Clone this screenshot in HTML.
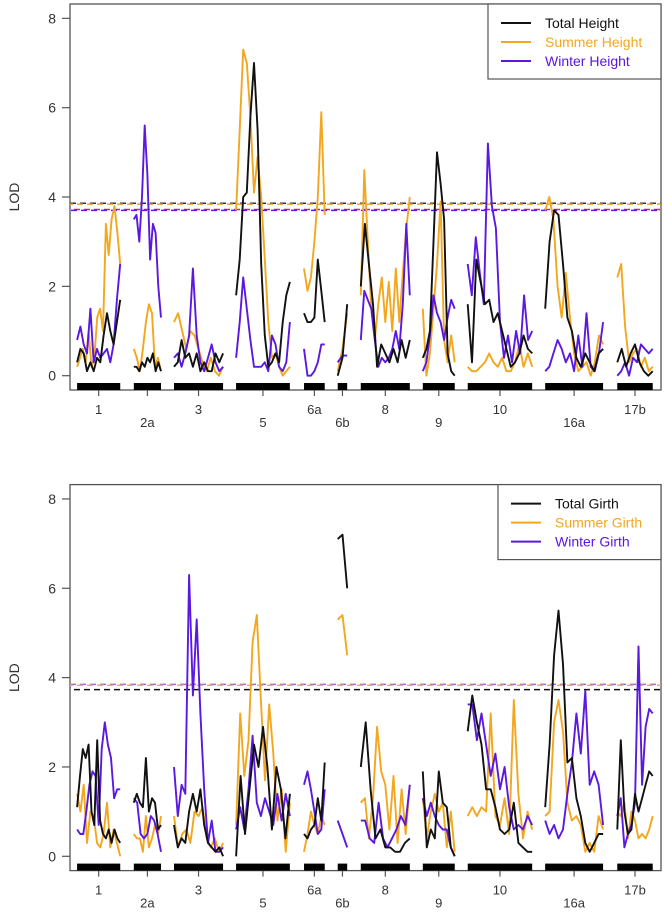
<!DOCTYPE html>
<html><head><meta charset="utf-8"><style>
html,body{margin:0;padding:0;background:#fff;}
svg{display:block;font-family:"Liberation Sans",Arial,sans-serif;}
</style></head><body>
<svg id="chart" width="664" height="912" viewBox="0 0 664 912" xmlns="http://www.w3.org/2000/svg"></svg>
<script>
const chromNames = ["1","2a","3","5","6a","6b","8","9","10","16a","17b"];
const chromStart = [1.2,10.8,17.6,28.1,39.6,45.3,49.2,59.7,67.3,80.4,92.6];
const chromEnd   = [8.5,15.4,25.9,37.2,43.1,46.9,57.5,65.1,78.2,90.2,98.6];
const yTicks = [0,2,4,6,8];

const heightTotal = [
 [0.3,0.6,0.5,0.1,0.3,0.1,0.4,0.3,0.9,1.4,1.0,0.7,1.2,1.7],
 [0.2,0.2,0.1,0.3,0.2,0.4,0.3,0.5,0.1,0.3,0.1],
 [0.2,0.3,0.8,0.4,0.5,0.2,0.5,0.1,0.3,0.1,0.1,0.5,0.3,0.5],
 [1.8,2.6,4.0,4.1,5.8,7.0,5.5,2.5,0.9,0.2,0.3,0.5,0.3,1.2,1.8,2.1],
 [1.4,1.2,1.2,1.3,2.6,1.9,1.2],
 [0.0,0.4,1.6],
 [2.0,3.4,2.5,1.6,0.2,0.7,0.5,0.3,0.6,0.3,0.8,0.4,0.8],
 [0.4,0.6,1.0,3.0,5.0,4.3,3.5,0.5,0.1,0.0],
 [1.6,0.3,2.6,2.1,1.6,1.7,1.2,1.4,1.0,0.6,0.2,0.3,0.5,0.9,0.6,0.5],
 [1.5,3.0,3.7,3.6,2.5,1.3,1.0,0.4,0.2,0.5,0.3,0.1,0.5,0.6],
 [0.3,0.6,0.2,0.5,0.7,0.3,0.1,0.0,0.1]
];
const heightSummer = [
 [0.2,0.4,0.6,0.3,1.0,0.2,0.4,1.3,1.5,1.0,3.4,2.7,3.5,3.8,3.2,2.5],
 [0.6,0.4,0.1,0.6,1.2,1.6,1.4,0.2,0.4,0.1],
 [1.2,1.4,1.0,0.6,1.0,0.9,0.6,0.3,0.1,0.4,0.1,0.0,0.2],
 [3.7,5.5,7.3,7.0,5.8,4.1,4.9,4.0,2.6,1.2,0.4,0.5,0.2,0.0,0.1,0.2],
 [2.4,1.9,2.2,3.0,4.0,5.9,3.6],
 [0.1,0.6,1.4],
 [1.8,4.6,3.0,1.5,0.8,1.6,2.2,1.2,2.1,1.0,2.4,1.2,2.3,3.3,4.0],
 [1.5,0.0,0.5,1.5,2.5,3.9,0.8,0.3,0.9,0.3],
 [0.2,0.1,0.1,0.2,0.3,0.5,0.3,0.2,0.4,0.1,0.1,0.3,0.7,0.2,0.5,0.2],
 [3.7,4.0,3.5,2.0,1.3,2.3,1.3,0.5,0.1,0.2,0.3,0.0,0.3,0.9,0.7],
 [2.2,2.5,1.1,0.3,0.5,0.6,0.2,0.4,0.1,0.2]
];
const heightWinter = [
 [0.8,1.1,0.7,0.5,1.5,0.3,0.6,0.4,0.5,0.6,0.3,0.7,1.7,2.5],
 [3.5,3.6,3.0,4.0,5.6,4.5,2.6,3.4,3.2,2.0,1.3],
 [0.4,0.5,0.2,0.5,0.9,2.4,0.9,0.3,0.1,0.4,0.7,0.3,0.1,0.2],
 [0.4,1.2,2.2,1.5,0.8,0.2,0.2,0.2,0.3,0.1,0.9,0.7,0.2,0.1,0.3,1.2],
 [0.6,0.0,0.0,0.1,0.3,0.7,0.7],
 [0.3,0.45,0.45],
 [0.8,1.9,1.7,1.5,0.8,0.2,0.4,0.3,0.4,0.6,1.0,0.6,1.6,3.4,1.8],
 [0.1,0.3,0.9,1.8,1.4,1.2,0.8,1.3,1.7,1.5],
 [2.5,1.8,3.1,2.3,1.6,5.2,3.8,3.3,1.2,0.4,0.9,0.3,1.0,0.5,1.8,0.8,1.0],
 [0.1,0.2,0.5,0.8,0.6,0.3,0.5,0.1,0.9,0.2,1.4,0.2,0.1,0.5,1.2],
 [0.0,0.1,0.3,0.0,0.4,0.3,0.7,0.6,0.5,0.6]
];
const girthTotal = [
 [1.1,1.8,2.4,2.2,2.5,1.0,0.7,2.6,0.8,0.5,0.4,0.6,0.3,0.6,0.4,0.3],
 [1.2,1.4,1.2,1.1,2.2,1.0,1.3,1.2,0.6,0.7],
 [0.7,0.2,0.4,0.3,1.0,1.4,1.0,1.5,0.7,0.3,0.2,0.1,0.2,0.0],
 [0.0,1.8,0.5,1.5,2.5,2.0,2.9,2.0,0.6,2.0,1.5,0.4,1.4],
 [0.5,0.4,0.6,0.7,1.3,0.8,2.1],
 [7.1,7.2,6.0],
 [2.0,3.0,1.5,0.4,0.6,0.2,0.2,0.1,0.1,0.3,0.4],
 [1.9,0.2,0.6,0.4,1.9,1.2,1.1,0.2,0.0],
 [2.8,3.6,3.0,2.5,1.5,1.5,1.1,0.6,0.5,0.6,1.2,0.3,0.2,0.1,0.1],
 [1.1,2.5,4.5,5.5,4.3,2.1,2.2,1.3,0.9,0.3,0.1,0.3,0.5,0.5],
 [0.6,2.6,1.0,0.5,0.6,1.4,1.0,1.3,1.6,1.9,1.8]
];
const girthSummer = [
 [1.4,1.0,1.6,0.3,1.0,0.9,0.3,0.2,0.5,1.2,0.2,0.6,0.3,0.0],
 [0.5,0.4,0.4,0.1,0.9,0.2,0.4,0.7,0.5,0.9],
 [0.9,0.2,0.5,0.6,0.3,1.0,0.9,1.1,0.4,0.2,0.4,0.1,0.3],
 [0.7,3.2,1.8,2.6,4.8,5.4,3.5,1.7,3.4,2.3,0.8,1.5,0.1,1.2],
 [0.1,0.5,1.0,0.7,0.5,0.9,0.7],
 [5.3,5.4,4.5],
 [1.2,1.3,0.4,1.3,2.9,1.9,1.6,0.6,1.8,0.3,1.5,0.5,1.6],
 [1.3,0.4,1.0,1.4,1.0,1.2,0.2,1.0,0.1],
 [0.9,1.1,0.9,1.1,1.0,3.2,0.9,0.7,1.3,0.5,3.5,1.4,0.4,1.0,0.6],
 [0.9,1.0,3.0,3.5,2.8,1.2,0.8,0.9,0.7,0.1,0.3,0.1,0.9,0.6],
 [1.0,0.9,1.2,0.4,1.0,0.8,0.4,0.5,0.4,0.6,0.9]
];
const girthWinter = [
 [0.6,0.5,0.5,1.0,1.6,1.9,1.8,0.7,2.4,3.0,2.5,2.2,1.3,1.5,1.5],
 [1.3,1.2,0.5,0.4,0.5,0.9,0.8,0.5,0.1],
 [2.0,0.9,1.6,1.4,6.3,3.6,5.3,3.2,1.5,0.3,0.8,0.1,0.1,0.2],
 [0.6,1.1,0.6,1.5,2.7,1.2,0.9,1.3,1.0,0.7,1.4,0.8,1.4,0.9],
 [1.6,1.9,1.5,1.0,0.5,0.6,1.5],
 [0.8,0.5,0.2],
 [0.8,0.8,0.4,0.3,1.2,0.4,0.2,0.4,0.6,0.9,0.7,1.6],
 [1.3,0.9,1.2,0.9,0.7,0.6,0.6,0.2,0.0],
 [3.4,3.4,2.6,3.2,2.5,1.8,2.3,1.5,2.0,1.1,0.6,0.7,0.6,0.9,0.7],
 [0.8,0.5,0.7,0.4,0.6,1.4,2.1,3.2,2.3,3.7,1.6,1.9,1.6,0.7],
 [0.9,1.3,0.2,0.5,0.7,1.2,4.7,1.6,2.9,3.3,3.2]
];
const heightThresholds = [3.86,3.84,3.72,3.70];
const girthThresholds = [3.85,3.83,3.73];

const svg = document.getElementById('chart');
const NS = 'http://www.w3.org/2000/svg';
function mk(tag, attrs, parent){
  const e = document.createElementNS(NS, tag);
  for (const k in attrs) e.setAttribute(k, attrs[k]);
  (parent||svg).appendChild(e);
  return e;
}
const COL = {total:'#111111', summer:'#F2A71E', winter:'#5A18E0'};
const xScale = u => 70 + u*5.91;

function panel(off, key, series, thresholds, thrColors, labels){
  const yScale = v => off + 375.7 - v*44.67;
  const g = mk('g', {});
  
  
  // frame
  const fr = mk('rect', {x:70, y:off+4, width:591, height:386, fill:'none', stroke:'#555', 'stroke-width':1.3}, g);
  
  
  // y ticks
  yTicks.forEach(t => {
    const y = yScale(t);
    const tl = mk('line', {x1:62, x2:70, y1:y, y2:y, stroke:'#555', 'stroke-width':1.2}, g);
    
    
    const tx = mk('text', {x:56, y:y+5, 'text-anchor':'end', 'font-size':14, fill:'#333'}, g);
    tx.textContent = t;
    
    
  });
  const yl = mk('text', {x:0, y:0, 'text-anchor':'middle', 'font-size':14, fill:'#333', transform:'translate(19,'+(off+197)+') rotate(-90)'}, g);
  yl.textContent = 'LOD';
  
  
  // chromosome bars, ticks, labels
  chromNames.forEach((n, i) => {
    const x0 = xScale(chromStart[i]), x1 = xScale(chromEnd[i]), xc = (x0+x1)/2;
    const b = mk('rect', {x:x0, y:off+383, width:x1-x0, height:7, fill:'#000'}, g);
    
    
    const tk = mk('line', {x1:xc, x2:xc, y1:off+390, y2:off+396, stroke:'#555', 'stroke-width':1.2}, g);
    
    
    const lb = mk('text', {x:xc, y:off + (i%2===0 ? 414 : 427), 'text-anchor':'middle', 'font-size':13, fill:'#333'}, g);
    lb.textContent = n;
    
    
  });
  // thresholds
  thresholds.forEach((t, i) => {
    const y = yScale(t);
    const l = mk('line', {x1:70, x2:661, y1:y, y2:y, stroke:thrColors[i], 'stroke-width':1.5, 'stroke-dasharray':'6,4', 'stroke-dashoffset': i*3}, g);
    
    
  });
  // curves
  ['summer','winter','total'].forEach(sk => {
    const arr = series[sk];
    arr.forEach((vals, ci) => {
      const x0 = xScale(chromStart[ci]), x1 = xScale(chromEnd[ci]);
      const pts = vals.map((v, j) => {
        const x = vals.length > 1 ? x0 + (x1-x0)*j/(vals.length-1) : x0;
        return x.toFixed(1) + ',' + yScale(v).toFixed(1);
      }).join(' ');
      const pl = mk('polyline', {points:pts, fill:'none', stroke:COL[sk], 'stroke-width':1.9, 'stroke-linejoin':'round'}, g);
      
      
    });
  });
  // legend
  const lx = key === 'height' ? 488 : 498;
  const lg = mk('g', {}, g);
  
  
  mk('rect', {x:lx, y:off+4, width:661-lx, height:75, fill:'#fff', stroke:'#555', 'stroke-width':1.2}, lg);
  ['total','summer','winter'].forEach((sk, i) => {
    const y = off + 23 + i*19;
    const ll = mk('line', {x1:lx+13, x2:lx+43, y1:y, y2:y, stroke:COL[sk], 'stroke-width':2}, lg);
    
    
    const lt = mk('text', {x:lx+57, y:y+5, 'font-size':14, fill: sk==='total' ? '#111' : COL[sk]}, lg);
    lt.textContent = labels[i];
    
    
  });
}

panel(0, 'height', {total:heightTotal, summer:heightSummer, winter:heightWinter},
  heightThresholds, ['#333','#E8A030','#C03050','#5A18E0'],
  ['Total Height','Summer Height','Winter Height']);
panel(480.6, 'girth', {total:girthTotal, summer:girthSummer, winter:girthWinter},
  girthThresholds, ['#9A6BE0','#E8A870','#111'],
  ['Total Girth','Summer Girth','Winter Girth']);
</script>
</body></html>
